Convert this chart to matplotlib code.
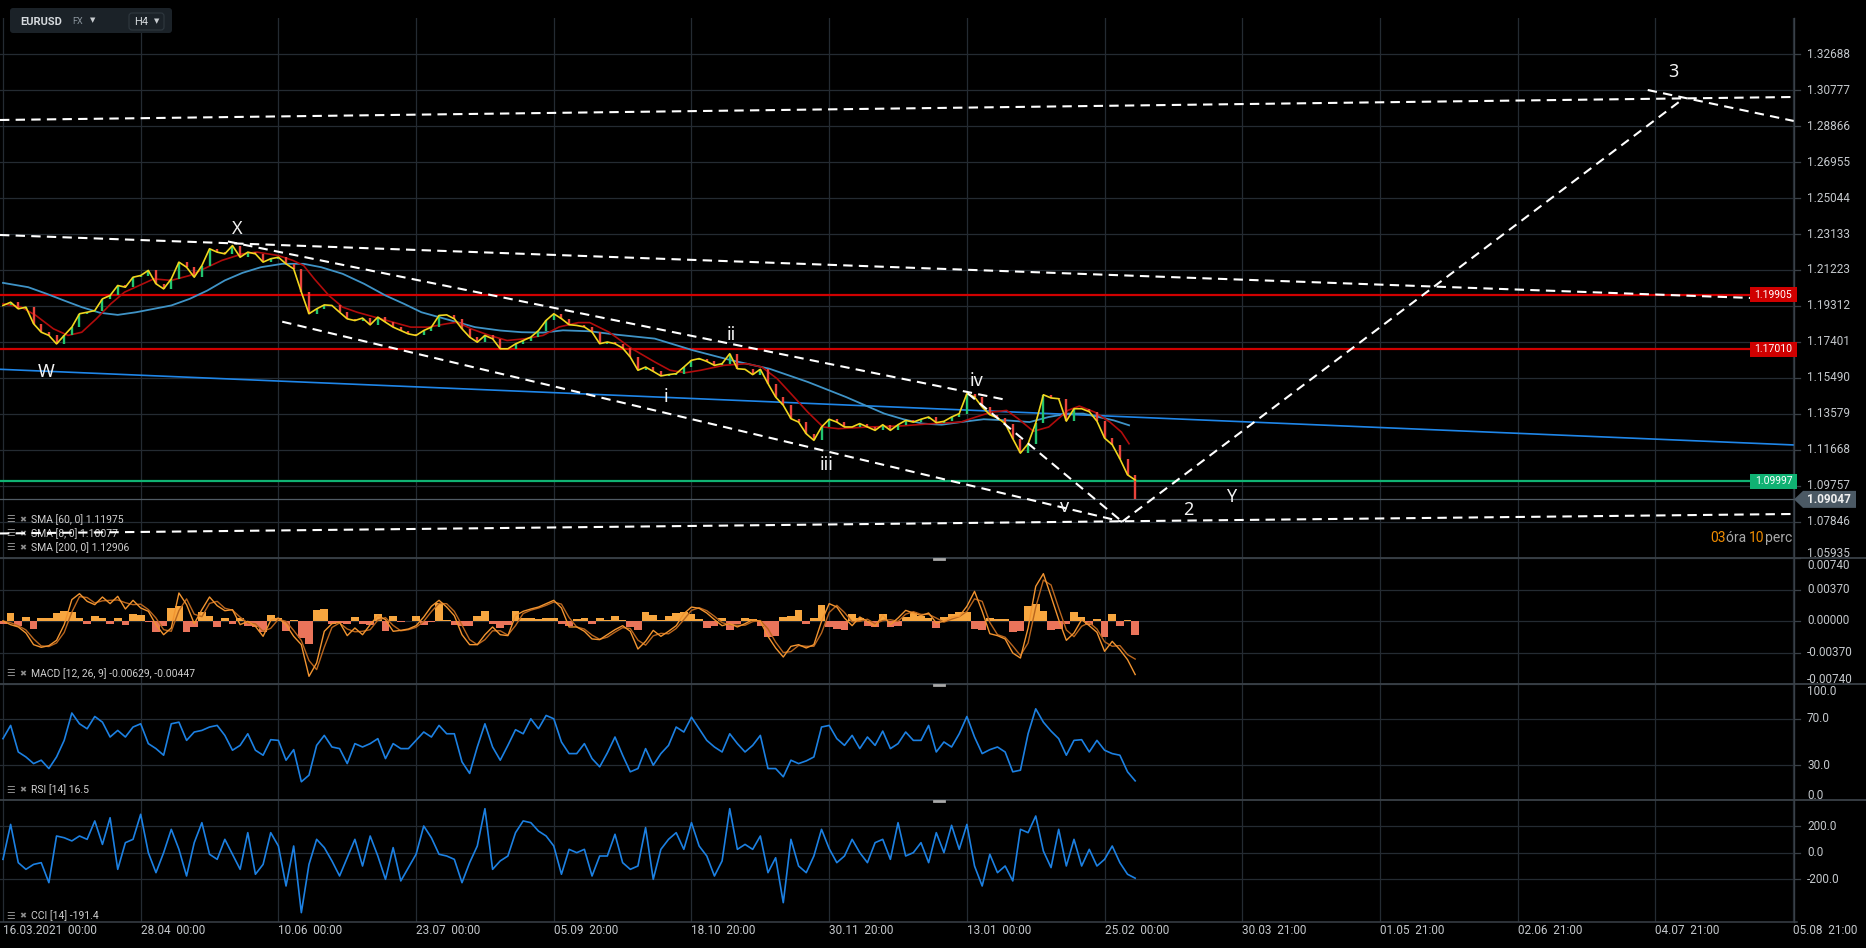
import numpy as np
import matplotlib
matplotlib.use("Agg")
import matplotlib.pyplot as plt
from matplotlib.patches import FancyBboxPatch, Polygon, Rectangle

plt.rcParams['font.family'] = ['Roboto', 'DejaVu Sans']

W, H = 1866, 948

# ---------------- data ----------------
x_tick_labels = ["16.03.2021  00:00", "28.04  00:00", "10.06  00:00", "23.07  00:00",
                 "05.09  20:00", "18.10  20:00", "30.11  20:00", "13.01  00:00",
                 "25.02  00:00", "30.03  21:00", "01.05  21:00", "02.06  21:00",
                 "04.07  21:00", "05.08  21:00"]
BARS_PER_TICK = 18

price_tick_labels = ['1.05935', '1.07846', '1.09757', '1.11668', '1.13579', '1.15490',
                     '1.17401', '1.19312', '1.21223', '1.23133', '1.25044', '1.26955',
                     '1.28866', '1.30777', '1.32688']
price_range = (1.05935, 1.34599)

closes = [
    1.1934, 1.1951, 1.1916, 1.1925, 1.1837, 1.1792, 1.1775, 1.1730, 1.1775, 1.1819,
    1.1890, 1.1898, 1.1907, 1.1969, 1.1987, 1.2040, 1.2031, 1.2084, 1.2093, 1.2120,
    1.2049, 1.2022, 1.2075, 1.2164, 1.2137, 1.2084, 1.2146, 1.2235, 1.2217, 1.2208,
    1.2252, 1.2190, 1.2217, 1.2208, 1.2164, 1.2182, 1.2190, 1.2155, 1.2128, 1.2005,
    1.1890, 1.1916, 1.1937, 1.1934, 1.1898, 1.1863, 1.1854, 1.1867, 1.1831, 1.1872,
    1.1845, 1.1819, 1.1801, 1.1783, 1.1775, 1.1801, 1.1819, 1.1881, 1.1884, 1.1863,
    1.1810, 1.1766, 1.1739, 1.1775, 1.1757, 1.1704, 1.1704, 1.1730, 1.1748, 1.1766,
    1.1801, 1.1855, 1.1890, 1.1864, 1.1832, 1.1828, 1.1820, 1.1793, 1.1731, 1.1740,
    1.1731, 1.1708, 1.1660, 1.1590, 1.1607, 1.1584, 1.1560, 1.1567, 1.1572, 1.1607,
    1.1643, 1.1652, 1.1637, 1.1616, 1.1625, 1.1678, 1.1598, 1.1595, 1.1567, 1.1595,
    1.1519, 1.1448, 1.1404, 1.1333, 1.1315, 1.1253, 1.1218, 1.1289, 1.1330, 1.1315,
    1.1289, 1.1289, 1.1307, 1.1289, 1.1271, 1.1301, 1.1271, 1.1301, 1.1324, 1.1315,
    1.1330, 1.1342, 1.1312, 1.1319, 1.1342, 1.1360, 1.1466, 1.1448, 1.1395, 1.1354,
    1.1337, 1.1307, 1.1227, 1.1150, 1.1200, 1.1310, 1.1460, 1.1443, 1.1439, 1.1320,
    1.1386, 1.1386, 1.1370, 1.1320, 1.1230, 1.1195, 1.1120, 1.1035, 1.0905]
sma8_last = 1.10077

sma60_x = [0, 2.4, 4.3, 6.6, 8.5, 10.3, 12.2, 14.1, 15.9, 18.3, 19.7, 22, 24.4, 26.7, 28.6,
           31.3, 33.2, 36, 37.9, 39.3, 40.7, 42.6, 44.4, 46.3, 48.6, 51, 53.3, 55.6, 58,
           59.4, 61.2, 63.6, 65.9, 68.2, 70.6, 72.7, 75.2, 76.7, 79.2, 82.2, 85.2, 87.2,
           89.2, 91.2, 94.2, 97.2, 99.2, 101.2, 103.2, 105.2, 107.2, 109.2, 113.2, 117.2,
           121.2, 125.2, 127.2, 129.2, 131.2, 132.7, 134.7, 136.7, 139.2, 140.7, 142.7,
           144.7, 146.2, 147.2]
sma60_y = [1.1943, 1.1925, 1.1881, 1.1810, 1.1775, 1.1792, 1.1863, 1.1943, 1.2005, 1.2049,
           1.2075, 1.2067, 1.2093, 1.2137, 1.2173, 1.2208, 1.2217, 1.2199, 1.2173, 1.2146,
           1.2075, 1.1987, 1.1925, 1.1898, 1.1872, 1.1845, 1.1819, 1.1819, 1.1837, 1.1845,
           1.1810, 1.1775, 1.1748, 1.1757, 1.1775, 1.1820, 1.1843, 1.1843, 1.1793, 1.1705,
           1.1634, 1.1590, 1.1577, 1.1590, 1.1616, 1.1625, 1.1607, 1.1545, 1.1457, 1.1368,
           1.1289, 1.1280, 1.1289, 1.1294, 1.1306, 1.1315, 1.1342, 1.1368, 1.1377, 1.1333,
           1.1266, 1.1289, 1.1377, 1.1400, 1.1368, 1.1315, 1.1262, 1.1200]

sma200_x = [0, 3.3, 5.7, 8, 10.3, 12.7, 15, 17.4, 19.7, 22, 24.4, 26.7, 29, 31.3, 33.7, 36.5,
            39.3, 41.6, 44.4, 47.2, 50, 52.4, 54.7, 57, 59.4, 61.7, 65, 67.8, 70.6, 73.2,
            76.7, 80.2, 85.2, 90.2, 95.2, 100.2, 105.2, 110.2, 115.2, 117.7, 120.2, 122.7,
            125.2, 128.2, 131.2, 134.2, 136.7, 139.2, 141.2, 143.2, 145.2, 147.2]
sma200_y = [1.2054, 1.2031, 1.1996, 1.1960, 1.1925, 1.1895, 1.1884, 1.1898, 1.1916, 1.1934,
            1.1969, 1.2013, 1.2067, 1.2107, 1.2137, 1.2155, 1.2155, 1.2137, 1.2102, 1.2049,
            1.1987, 1.1943, 1.1898, 1.1872, 1.1845, 1.1819, 1.1801, 1.1792, 1.1790, 1.1802,
            1.1797, 1.1779, 1.1758, 1.1696, 1.1643, 1.1598, 1.1528, 1.1448, 1.1360, 1.1330,
            1.1307, 1.1301, 1.1315, 1.1330, 1.1324, 1.1315, 1.1342, 1.1360, 1.1360, 1.1342,
            1.1324, 1.1298]

trend_blue_x = [-0.39, 234.1]
trend_blue_y = [1.15952, 1.11935]

red_levels = [1.19905, 1.17010]
green_level = 1.09997
last_price = 1.09047

wave_lines = [
    ([-0.39, 234.1], [1.29185, 1.30406]),
    ([215.0, 234.1], [1.30777, 1.29132]),
    ([146.3, 219.6], [1.07864, 1.30300]),
    ([-0.39, 234.1], [1.07237, 1.08272]),
    ([-0.39, 234.1], [1.23081, 1.19657]),
    ([29.4, 131.2], [1.22736, 1.14323]),
    ([36.5, 146.3], [1.18479, 1.07864]),
    ([126.1, 146.3], [1.14679, 1.07864]),
]
wave_labels = [("W", 5.67, 1.15825), ("X", 30.65, 1.23384), ("i", 86.6, 1.14498),
               ("ii", 95.2, 1.17773), ("iii", 107.6, 1.10873), ("iv", 127.3, 1.15348),
               ("v", 138.8, 1.08659), ("2", 154.9, 1.08484), ("Y", 160.5, 1.09190),
               ("3", 218.3, 1.31749)]

macd = [v * 1e-5 for v in [
    0, -43, -70, -141, -278, -309, -290, -227, -43, 251,
    321, 231, 192, 282, 204, 290, 141, 243, 153, 114,
    -43, -161, -82, 329, 192, -31, 133, 282, 180, 121,
    133, -43, -4, -63, -180, 8, 35, -43, -180, -278,
    -650, -493, -121, -31, -16, -172, -82, -161, -43, 63,
    16, -121, -110, -94, -55, 47, 172, 243, 164, 63,
    -161, -278, -278, -161, -70, -161, -172, 63, 114, 141,
    164, 204, 243, 153, -70, -70, -121, -211, -219, -161,
    -102, -55, -121, -329, -239, -110, -180, -121, -55, 86,
    164, 149, 94, 16, -55, -31, -70, -31, 16, -4,
    -180, -317, -423, -298, -278, -317, -278, -4, 204, 164,
    35, -55, 47, -4, -63, 74, -43, 35, 125, 94,
    63, 94, -23, -4, 47, 55, 172, 348, 114, -149,
    -172, -211, -376, -435, -82, 407, 556, 290, 16, -227,
    -141, 16, -55, -133, -356, -239, -337, -454, -629]]
macd_signal = [v * 1e-5 for v in [
    0, -20, -56, -105, -210, -293, -300, -258, -135, 104,
    286, 276, 212, 237, 243, 247, 215, 192, 198, 134,
    35, -102, -121, 123, 260, 80, 51, 207, 231, 150,
    127, 45, -23, -33, -121, -86, 21, -4, -111, -229,
    -464, -571, -307, -76, -23, -94, -127, -121, -102, 10,
    40, -52, -115, -102, -74, -4, 110, 207, 203, 113,
    -49, -219, -278, -219, -115, -115, -166, -54, 88, 127,
    152, 184, 223, 198, 41, -70, -95, -166, -215, -190,
    -131, -78, -88, -225, -284, -174, -145, -150, -88, 15,
    125, 156, 121, 55, -20, -43, -50, -50, -7, 6,
    -92, -248, -370, -360, -288, -297, -297, -141, 100, 184,
    100, -10, -4, 21, -33, 5, 15, -4, 80, 110,
    78, 78, 35, -13, 21, 51, 113, 260, 231, -17,
    -160, -191, -293, -405, -258, 162, 481, 423, 153, -105,
    -184, -62, -19, -94, -244, -297, -288, -395, -447]]
macd_hist = [v * 1e-5 for v in [
    -31, 94, -63, 47, -94, 35, 35, 94, 114, 110,
    35, -31, 55, 35, -31, 35, -43, 86, 74, -16,
    -133, -55, 153, 180, -133, -70, 102, 55, -70, 35,
    -31, 35, -55, -70, -133, 74, 35, -121, 16, -200,
    -266, 133, 141, -31, -23, -31, 47, -31, -43, 86,
    -121, 63, -16, 0, 55, -43, -16, 211, 16, -43,
    -55, -63, 55, 114, -31, -82, -43, 114, 35, 35,
    23, 35, 31, -31, -55, 23, 35, -31, 35, 16,
    55, 8, -70, -102, 102, 74, 16, 55, 94, 102,
    86, 23, -82, -63, 35, -102, -31, 35, 23, -63,
    -188, -172, 47, 55, 125, -31, 35, 192, -70, -94,
    -102, 86, 35, -55, -70, 86, -70, -63, 47, 102,
    55, 35, -82, 47, 86, 110, 102, -94, -102, 35,
    23, 23, -133, -121, 172, 204, 114, -102, -94, -31,
    102, 47, -43, 23, -188, 86, -55, 8, -161]]
macd_ticks = [-0.0074, -0.0037, 0.0, 0.0037, 0.0074]
macd_tick_labels = ['-0.00740', '-0.00370', '0.00000', '0.00370', '0.00740']

rsi = [
    52.9, 64.3, 41.4, 37.1, 31.4, 34.3, 27.1, 37.1, 51.4, 75.0,
    65.7, 61.4, 72.0, 67.1, 54.3, 60.0, 54.3, 62.9, 65.7, 48.6,
    44.3, 38.6, 65.7, 67.1, 51.4, 58.6, 60.0, 62.9, 64.3, 55.7,
    42.9, 47.1, 57.1, 42.9, 38.6, 52.0, 51.4, 34.3, 43.4, 15.7,
    21.4, 47.1, 55.7, 45.7, 44.3, 31.4, 48.6, 45.7, 48.6, 52.9,
    35.7, 48.6, 44.3, 44.3, 51.4, 58.6, 54.3, 64.3, 57.1, 57.1,
    32.9, 22.9, 45.7, 65.7, 45.7, 34.3, 47.1, 60.6, 57.1, 70.0,
    61.4, 72.9, 70.0, 50.0, 40.0, 40.0, 48.6, 35.7, 28.6, 40.6,
    54.3, 38.6, 24.3, 27.1, 44.3, 30.0, 40.0, 47.1, 62.9, 58.6,
    71.4, 61.4, 51.4, 45.7, 41.4, 57.1, 48.6, 41.4, 47.1, 55.7,
    27.1, 27.1, 20.0, 34.3, 31.4, 33.7, 37.1, 62.9, 64.3, 52.9,
    47.1, 55.7, 44.3, 54.3, 47.1, 59.4, 44.3, 48.6, 58.6, 51.4,
    51.4, 64.3, 41.4, 50.0, 45.7, 57.1, 72.0, 54.3, 40.0, 43.4,
    45.7, 41.4, 24.3, 25.7, 57.1, 78.6, 67.1, 59.4, 52.9, 38.6,
    51.4, 52.0, 41.4, 51.4, 42.9, 40.0, 38.6, 24.3, 16.5]
rsi_ticks = [0, 30, 70, 100]
rsi_tick_labels = ['0.0', '30.0', '70.0', '100.0']

cci = [
    -50, 212, -75, -125, -88, -75, -225, 125, 112, 88,
    125, 100, 238, 62, 262, -125, 75, 100, 288, 0,
    -150, 0, 175, 25, -175, 75, 225, -12, -50, 100,
    -12, -125, 150, -162, -88, 150, 50, -250, 50, -450,
    -88, 100, 38, -62, -175, -38, 100, -100, 125, -25,
    -200, 38, -212, -112, -12, 200, 112, -12, -25, -50,
    -225, -75, 50, 330, -125, -62, -25, 150, 238, 225,
    162, 125, 50, -162, 25, 0, 25, -175, -25, -25,
    138, -75, -125, -100, 188, -200, 25, 100, 150, 25,
    225, 50, -25, -175, -62, 330, 25, 62, 25, 125,
    -150, -38, -375, 100, -100, -150, -25, 175, 30, -75,
    -25, 100, 0, -75, 75, 100, -50, 225, -25, 0,
    75, -75, 150, 0, 205, 25, 212, -100, -250, -12,
    -150, -100, -212, 175, 150, 275, 12, -112, 175, -100,
    100, -100, 25, -100, -50, 50, -75, -162, -191.4]
cci_ticks = [-200, 0, 200]
cci_tick_labels = ['-200.0', '0.0', '200.0']
cci_range = (-520, 395)

# ---------------- style ----------------
BG = '#000000'
GRID = '#242b32'
SEP = '#3a4148'
TXT = '#c4c8cc'
GREEN_C = '#22c36f'
RED_C = '#e8433b'
YELLOW = '#f0d61e'
SMA60_C = '#b00c0c'
SMA200_C = '#3f93c6'
TREND_C = '#1f86e8'
LEVEL_RED = '#d00000'
LEVEL_GREEN = '#10b273'
MACD_C = '#f29430'
SIG_C = '#b8651e'
HIST_POS = '#f7a63f'
HIST_NEG = '#ea745a'
IND_C = '#1c80e2'

fig = plt.figure(figsize=(W / 100, H / 100), dpi=100, facecolor=BG)
XLIM = (-0.39, 234.12)
RIGHT = 1794


def mkax(y0, y1, ylim, hvals):
    ax = fig.add_axes([0, 1 - y1 / H, RIGHT / W, (y1 - y0) / H])
    ax.set_xlim(*XLIM)
    ax.set_ylim(*ylim)
    ax.axis('off')
    for k in range(len(x_tick_labels)):
        ax.axvline(k * BARS_PER_TICK, color=GRID, lw=0.9, zorder=0)
    for v in hvals:
        ax.axhline(v, color=GRID, lw=0.9, zorder=0)
    return ax


price_vals = [float(s) for s in price_tick_labels]
ax_p = mkax(18, 558, price_range, price_vals)
ax_m = mkax(558, 684, (macd_ticks[0], macd_ticks[-1]), macd_ticks)
ax_r = mkax(684, 800, (0, 100), rsi_ticks)
ax_c = mkax(800, 922, cci_range, cci_ticks)

ov = fig.add_axes([0, 0, 1, 1], zorder=10)
ov.set_xlim(0, W)
ov.set_ylim(H, 0)
ov.axis('off')


def ypix(ax, v):
    return H - ax.transData.transform((0, v))[1]


def xpix(ax, b):
    return ax.transData.transform((b, 0))[0]


# ---------------- main price panel ----------------
bars = np.arange(len(closes))
c = np.array(closes)
o = np.r_[c[0], c[:-1]]
up = c >= o
for v in red_levels:
    ax_p.axhline(v, color=LEVEL_RED, lw=1.6, zorder=2)
ax_p.axhline(green_level, color=LEVEL_GREEN, lw=1.6, zorder=2)
ax_p.axhline(last_price, color='#505b64', lw=0.9, zorder=1)
ax_p.plot(trend_blue_x, trend_blue_y, color=TREND_C, lw=1.2, zorder=2)
ax_p.plot(sma200_x, sma200_y, color=SMA200_C, lw=1.3, zorder=3)
ax_p.plot(sma60_x, sma60_y, color=SMA60_C, lw=1.2, zorder=3)
ax_p.vlines(bars[up], o[up], c[up], color=GREEN_C, lw=1.7, zorder=3)
ax_p.vlines(bars[~up], c[~up], o[~up], color=RED_C, lw=1.7, zorder=3)
ax_p.plot(bars, np.r_[c[:-1], sma8_last], color=YELLOW, lw=1.2, zorder=4)

for xs, ys in wave_lines:
    ax_p.plot(xs, ys, color='white', lw=1.5, ls=(0, (4.5, 3)), zorder=6)
for s, bx, py in wave_labels:
    ax_p.text(bx, py, s, color='#f2f2f2', fontsize=13, family=['Noto Sans', 'DejaVu Sans'],
              ha='center', va='center', zorder=7)

# ---------------- MACD ----------------
mh = np.array(macd_hist)
ax_m.bar(bars, mh, width=1.0, color=np.where(mh >= 0, HIST_POS, HIST_NEG),
         edgecolor='none', zorder=2)
ax_m.plot(bars, macd_signal, color=SIG_C, lw=1.0, zorder=3)
ax_m.plot(bars, macd, color=MACD_C, lw=1.0, zorder=4)

# ---------------- RSI / CCI ----------------
ax_r.plot(bars, rsi, color=IND_C, lw=1.2, zorder=3)
ax_c.plot(bars, cci, color=IND_C, lw=1.2, zorder=3)

# ---------------- axes decorations ----------------
for yy in (558, 684, 800):
    ov.plot([0, W], [yy, yy], color=SEP, lw=1.3)
ov.plot([0, RIGHT + 3], [922, 922], color=SEP, lw=1.1)
ov.plot([RIGHT, RIGHT], [18, 922], color=SEP, lw=1.0)


def ylab(ax, vals, labs, y0, y1):
    for v, s in zip(vals, labs):
        yp = ypix(ax, v)
        if y0 < yp < y1:
            ov.plot([RIGHT, RIGHT + 6], [yp, yp], color=SEP, lw=0.9)
        yp = min(max(yp, y0 + 7.5), y1 - 4.3)
        ov.text(1807, yp, s, color=TXT, fontsize=8.5, ha='left', va='center')


ylab(ax_p, price_vals, price_tick_labels, 18, 558)
ylab(ax_m, macd_ticks, macd_tick_labels, 558, 684)
ylab(ax_r, rsi_ticks, rsi_tick_labels, 684, 800)
ylab(ax_c, cci_ticks, cci_tick_labels, 800, 922)

for k, s in enumerate(x_tick_labels):
    xp = xpix(ax_c, k * BARS_PER_TICK)
    ov.text(xp, 930, s, color=TXT, fontsize=8.5, ha='left', va='center')

# level boxes
for v, col in [(red_levels[0], LEVEL_RED), (red_levels[1], LEVEL_RED), (green_level, LEVEL_GREEN)]:
    yp = ypix(ax_p, v)
    ov.add_patch(Rectangle((1750, yp - 7.5), 47, 15, facecolor=col, edgecolor='none', zorder=5))
    ov.text(1773.5, yp, f'{v:.5f}', color='white', fontsize=7.5, ha='center', va='center', zorder=6)

yp = ypix(ax_p, last_price)
ov.add_patch(Polygon([(RIGHT, yp), (1803, yp - 8.5), (1856, yp - 8.5), (1856, yp + 8.5),
                      (1803, yp + 8.5)], closed=True, facecolor='#4b5964', edgecolor='none', zorder=5))
ov.text(1807, yp, f'{last_price:.5f}', color='#f0f0f0', fontsize=8.5, fontweight='bold',
        ha='left', va='center', zorder=6)

# countdown
t = ov.text(1710, 538, "03", color='#f08c00', fontsize=10, ha='left', va='center')
t2 = ov.annotate("óra ", xy=(1, 0), xycoords=t, ha='left', va='bottom', color='#a8a8a8', fontsize=10)
t3 = ov.annotate("10", xy=(1, 0), xycoords=t2, ha='left', va='bottom', color='#f08c00', fontsize=10)
ov.annotate("perc", xy=(1, 0), xycoords=t3, ha='left', va='bottom', color='#a8a8a8', fontsize=10)

# panel handles
for yy in (559, 685, 801):
    ov.plot([934, 944], [yy, yy], color='#a8a8a8', lw=2)

# header box
ov.add_patch(FancyBboxPatch((10, 8), 162, 25, boxstyle='round,pad=0,rounding_size=3',
                            facecolor='#1b2228', edgecolor='none', zorder=5))
ov.add_patch(FancyBboxPatch((129, 13), 35, 17, boxstyle='round,pad=0,rounding_size=3',
                            facecolor='#1b2228', edgecolor='#2f383f', lw=0.8, zorder=6))
ov.text(20, 21.5, 'EURUSD', color='#d6dade', fontsize=8, fontweight='bold', ha='left', va='center', zorder=7)
ov.text(72, 21.5, 'FX', color='#8a949c', fontsize=6.5, ha='left', va='center', zorder=7)
ov.text(93, 21, '▼', color='#c8ccd0', fontsize=5, ha='center', va='center', zorder=7)
ov.text(134, 21.5, 'H4', color='#d6dade', fontsize=8, ha='left', va='center', zorder=7)
ov.text(157, 22, '▼', color='#c8ccd0', fontsize=5, ha='center', va='center', zorder=7)

# indicator legends
legends = [(ax_p, 519.3, "SMA [60, 0] 1.11975"), (ax_p, 533.3, "SMA [8, 0] 1.10077"),
           (ax_p, 547.3, "SMA [200, 0] 1.12906"), (ax_m, 673.3, "MACD [12, 26, 9] -0.00629, -0.00447"),
           (ax_r, 790.0, "RSI [14] 16.5"), (ax_c, 915.7, "CCI [14] -191.4")]
for ax, yy, s in legends:
    ax.text(6, yy, '☰', transform=ov.transData, clip_on=False, color='#8c8c8c', fontsize=7,
            family=['DejaVu Sans'], ha='left', va='center', zorder=5)
    ax.text(19, yy, '✖', transform=ov.transData, clip_on=False, color='#8c8c8c', fontsize=6,
            family=['DejaVu Sans'], ha='left', va='center', zorder=5)
    ax.text(31, yy, s, transform=ov.transData, clip_on=False, color='#cfcfcf', fontsize=7.5,
            ha='left', va='center', zorder=5)

fig.savefig('out.png', dpi=100, facecolor=BG)
